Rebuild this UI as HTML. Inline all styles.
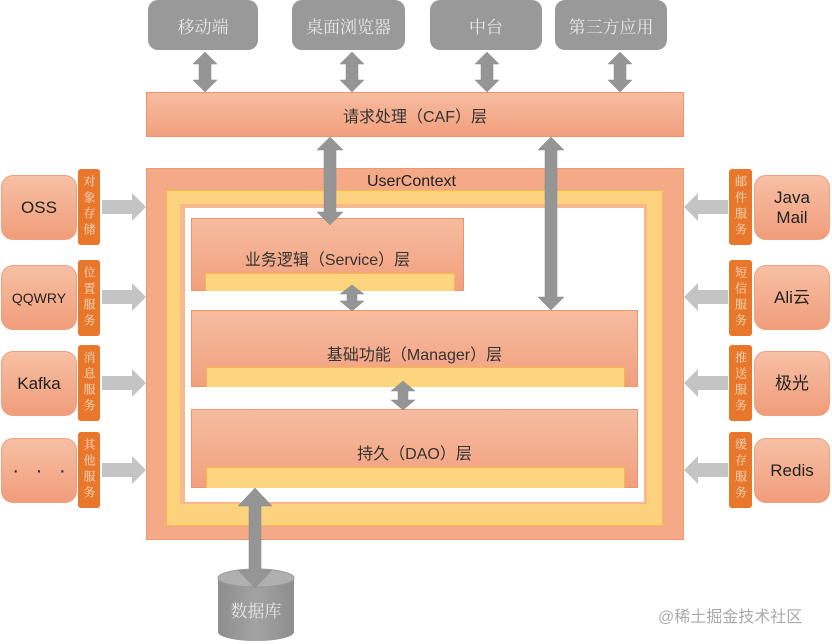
<!DOCTYPE html>
<html><head><meta charset="utf-8"><style>
body{margin:0;width:832px;height:644px;background:#fff;position:relative;overflow:hidden;font-family:"Liberation Sans","Noto Sans CJK SC",sans-serif}
.a{position:absolute;box-sizing:border-box}
.g{background:#999;border-radius:10px;color:#e8e8e8;font-size:17px;display:flex;align-items:center;justify-content:center;font-family:"Noto Serif CJK SC",serif}
.o{background:linear-gradient(#f6bca0,#f2a07e);border:1px solid #e9966e}
.lay{color:#333;font-size:16px;display:flex;justify-content:center}
.st{background:#fdd57f;border:1px solid #f4b94a;border-bottom:none}
.sb{background:linear-gradient(#f7c0a4,#f09d7b);border-radius:12px;border:1px solid #eea080;color:#222;font-size:17px;display:flex;align-items:center;justify-content:center;text-align:center;line-height:20px}
.tg{background:#e8762b;border-radius:3px;color:#fbe1cd;font-size:12px;line-height:14px;writing-mode:vertical-rl;display:flex;align-items:center;justify-content:center;letter-spacing:4px;font-family:"Noto Serif CJK SC",serif}
</style></head><body>
<div class="a g" style="left:148px;top:0;width:110px;height:50px">移动端</div>
<div class="a g" style="left:292px;top:0;width:113px;height:50px">桌面浏览器</div>
<div class="a g" style="left:430px;top:0;width:112px;height:50px">中台</div>
<div class="a g" style="left:555px;top:0;width:112px;height:50px">第三方应用</div>
<div class="a o lay" style="left:146px;top:92px;width:538px;height:45px;align-items:center">请求处理（CAF）层</div>

<div class="a" style="left:146px;top:168px;width:538px;height:372px;background:#f4a987;border:1px solid #ec9874"></div>
<div class="a" style="left:166px;top:190px;width:497px;height:336px;background:#fdd27c;border:1px solid #f4b94a"></div>
<div class="a" style="left:180px;top:204px;width:467px;height:300px;background:#f8b88e"></div>
<div class="a" style="left:185px;top:208px;width:459px;height:294px;background:#fff"></div>
<div class="a" style="left:367px;top:173px;font-size:16px;color:#222">UserContext</div>

<div class="a o lay" style="left:191px;top:218px;width:273px;height:73px;padding-top:27px">业务逻辑（Service）层</div>
<div class="a st" style="left:205px;top:273px;width:250px;height:18px"></div>
<div class="a o lay" style="left:191px;top:310px;width:447px;height:77px;padding-top:30px">基础功能（Manager）层</div>
<div class="a st" style="left:206px;top:367px;width:419px;height:20px"></div>
<div class="a o lay" style="left:191px;top:409px;width:447px;height:79px;padding-top:30px">持久（DAO）层</div>
<div class="a st" style="left:206px;top:467px;width:419px;height:21px"></div>

<div class="a sb" style="left:1px;top:175px;width:76px;height:65px">OSS</div>
<div class="a sb" style="left:1px;top:265px;width:76px;height:65px;font-size:14px">QQWRY</div>
<div class="a sb" style="left:1px;top:351px;width:76px;height:65px">Kafka</div>
<div class="a sb" style="left:1px;top:438px;width:76px;height:65px;font-size:20px">·&nbsp;&nbsp;&nbsp;·&nbsp;&nbsp;&nbsp;·</div>
<div class="a tg" style="left:78px;top:169px;width:22px;height:76px">对象存储</div>
<div class="a tg" style="left:78px;top:260px;width:22px;height:76px">位置服务</div>
<div class="a tg" style="left:78px;top:345px;width:22px;height:76px">消息服务</div>
<div class="a tg" style="left:78px;top:432px;width:22px;height:76px">其他服务</div>

<div class="a sb" style="left:754px;top:175px;width:76px;height:65px">Java<br>Mail</div>
<div class="a sb" style="left:754px;top:265px;width:76px;height:65px">Ali云</div>
<div class="a sb" style="left:754px;top:351px;width:76px;height:65px">极光</div>
<div class="a sb" style="left:754px;top:438px;width:76px;height:65px">Redis</div>
<div class="a tg" style="left:729px;top:169px;width:23px;height:76px">邮件服务</div>
<div class="a tg" style="left:729px;top:260px;width:23px;height:76px">短信服务</div>
<div class="a tg" style="left:729px;top:345px;width:23px;height:76px">推送服务</div>
<div class="a tg" style="left:729px;top:432px;width:23px;height:76px">缓存服务</div>

<svg class="a" style="left:0;top:0" width="832" height="644">
<defs><linearGradient id="db" x1="0" x2="1"><stop offset="0" stop-color="#8d8d8d"/><stop offset=".5" stop-color="#a3a3a3"/><stop offset="1" stop-color="#8d8d8d"/></linearGradient></defs>
<path d="M218,578 L218,632 A38,9 0 0 0 294,632 L294,578 Z" fill="url(#db)"/>
<ellipse cx="256" cy="578" rx="38" ry="9" fill="#b0b0b0" stroke="#999"/>
<text x="256" y="617" text-anchor="middle" font-size="17" fill="#e6e6e6" font-family="Noto Serif CJK SC,serif">数据库</text>
<g fill="#959595" stroke="#888" stroke-width="0.5">
<polygon points="205,52 217,64 211,64 211,80 217,80 205,92 193,80 199,80 199,64 193,64"/>
<polygon points="352,52 364,64 358,64 358,80 364,80 352,92 340,80 346,80 346,64 340,64"/>
<polygon points="487,52 499,64 493,64 493,80 499,80 487,92 475,80 481,80 481,64 475,64"/>
<polygon points="620,52 632,64 626,64 626,80 632,80 620,92 608,80 614,80 614,64 608,64"/>
<polygon points="330,137 343,150 336,150 336,212 343,212 330,225 317,212 324,212 324,150 317,150"/>
<polygon points="551,137 564,150 557,150 557,297 564,297 551,310 538,297 545,297 545,150 538,150"/>
<polygon points="352,285 364,294 357,294 357,301 364,301 352,311 340,301 347,301 347,294 340,294"/>
<polygon points="403,381 415,391 408,391 408,400 415,400 403,410 391,400 398,400 398,391 391,391"/>
<polygon points="255,488 272,506 261,506 261,570 272,570 255,588 238,570 249,570 249,506 238,506"/>
</g>
<g fill="#c4c4c4">
<polygon points="102,200 132,200 132,193 146,207 132,221 132,214 102,214"/>
<polygon points="102,290 132,290 132,283 146,297 132,311 132,304 102,304"/>
<polygon points="102,376 132,376 132,369 146,383 132,397 132,390 102,390"/>
<polygon points="102,463 132,463 132,456 146,470 132,484 132,477 102,477"/>
<polygon points="728,200 698,200 698,193 684,207 698,221 698,214 728,214"/>
<polygon points="728,290 698,290 698,283 684,297 698,311 698,304 728,304"/>
<polygon points="728,376 698,376 698,369 684,383 698,397 698,390 728,390"/>
<polygon points="728,463 698,463 698,456 684,470 698,484 698,477 728,477"/>
</g>
<text x="658" y="622" font-size="16" fill="#aaa" font-family="Liberation Sans,Noto Sans CJK SC,sans-serif">@稀土掘金技术社区</text>
</svg>
</body></html>
